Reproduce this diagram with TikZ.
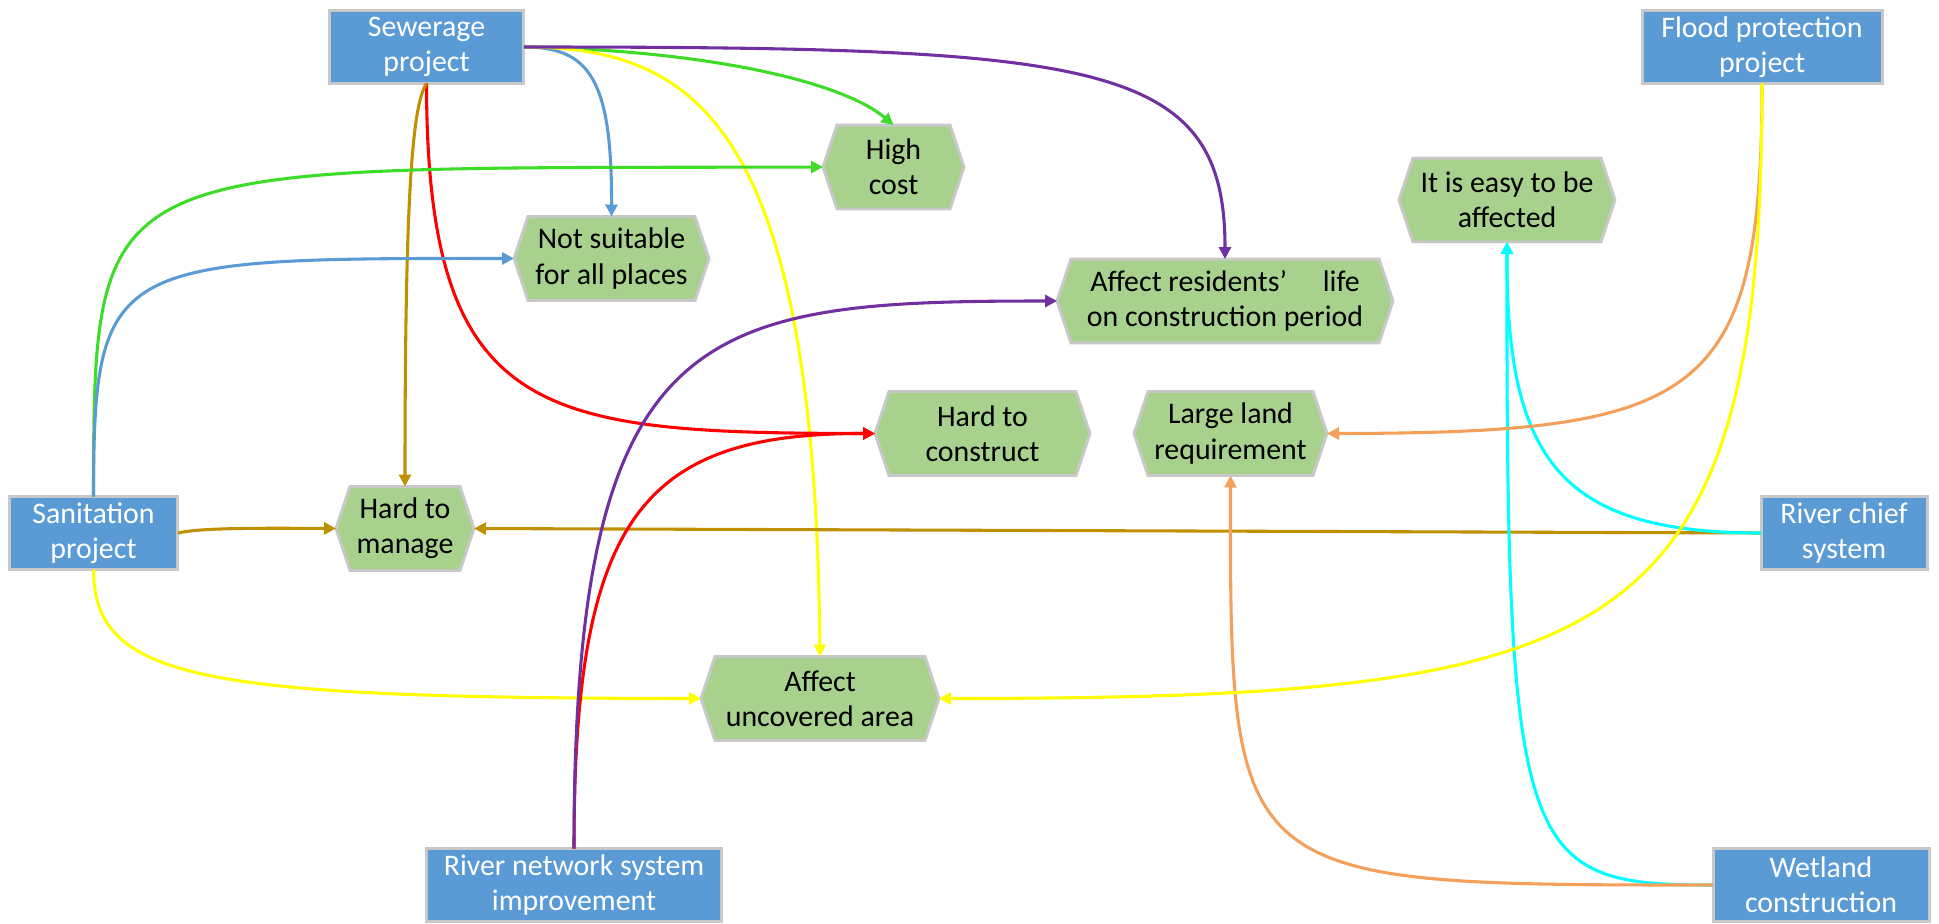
\documentclass[tikz,border=0pt]{standalone}
\usepackage{fontspec}
\setmainfont{Carlito}
\usetikzlibrary{arrows.meta}
\pgfdeclarelayer{background}
\pgfsetlayers{background,main}

\definecolor{boxblue}{HTML}{5B9BD5}
\definecolor{boxline}{HTML}{C8C8C8}
\definecolor{hexgreen}{HTML}{A9D18E}
\definecolor{lgreen}{HTML}{3CDC28}
\definecolor{lblue}{HTML}{5B9BD5}
\definecolor{lyellow}{HTML}{FFFF00}
\definecolor{lpurple}{HTML}{7030A0}
\definecolor{lred}{HTML}{FF0000}
\definecolor{lgold}{HTML}{BF9000}
\definecolor{lorange}{HTML}{F5A05A}
\definecolor{lcyan}{HTML}{00FFFF}

\begin{document}
\begin{tikzpicture}[x=0.02cm,y=-0.02cm,
  txt/.style={font=\fontsize{17}{20}\selectfont, align=center},
  proj/.style={txt, draw=boxline, line width=1.7pt, fill=boxblue, text=white,
    minimum height=1.46cm, inner sep=0pt, outer sep=0pt},
  issue/.style={txt, text=black, minimum height=1.68cm, inner sep=0pt, outer sep=0pt},
  hexline/.style={draw=boxline, line width=1.7pt, fill=hexgreen, line join=miter},
  link/.style={line width=1.75pt, -{Triangle[length=0.24cm,width=0.24cm]}}]

\useasboundingbox (0,0) rectangle (1939,923);

% project boxes
\node[proj, minimum width=3.90cm] (sew)   at (426.5,47)  {Sewerage\\project};
\node[proj, minimum width=4.80cm] (flood) at (1762,47)   {Flood protection\\project};
\node[proj, minimum width=3.38cm] (sani)  at (93.5,533)  {Sanitation\\project};
\node[proj, minimum width=3.32cm] (chief) at (1844,533)  {River chief\\system};
\node[proj, minimum width=5.92cm] (rnet)  at (574,885)   {River network system\\improvement};
\node[proj, minimum width=4.32cm] (wet)   at (1821,885)  {Wetland\\construction};

% consequence nodes (hexagons drawn underneath)
\node[issue, minimum width=2.82cm] (hc)   at (893.5,167) {High\\cost};
\node[issue, minimum width=3.90cm] (ns)   at (611.5,258.5) {Not suitable\\for all places};
\node[issue, minimum width=4.32cm] (ie)   at (1507,200)  {It is easy to be\\affected};
\node[issue, minimum width=6.72cm] (ar)   at (1225,301)  {Affect residents’\hspace{1.2em}life\\on construction period};
\node[issue, minimum width=4.30cm] (hcon) at (982.5,433.5) {Hard to\\construct};
\node[issue, minimum width=3.86cm] (ll)   at (1230.5,433.5) {Large land\\requirement};
\node[issue, minimum width=2.76cm] (hm)   at (405,528.5) {Hard to\\manage};
\node[issue, minimum width=4.76cm] (ua)   at (820,698.5) {Affect\\uncovered area};

\begin{pgfonlayer}{background}
\foreach \n in {hc,ns,ie,ar,hcon,ll,hm,ua}
  \draw[hexline] (\n.west) -- ([xshift=0.28cm]\n.north west) -- ([xshift=-0.28cm]\n.north east)
    -- (\n.east) -- ([xshift=-0.28cm]\n.south east) -- ([xshift=0.28cm]\n.south west) -- cycle;
\end{pgfonlayer}

% Sewerage project
\draw[link, lgreen]  (sew.east) .. controls (700,50) and (840,80) .. (hc.north);
\draw[link, lblue]   (sew.east) .. controls (590,47) and (612,80) .. (ns.north);
\draw[link, lyellow] (sew.east) .. controls (700,47) and (815,130) .. (ua.north);
\draw[link, lpurple] (sew.east) .. controls (1100,47) and (1225,60) .. (ar.north);
\draw[link, lred]    (sew.south) .. controls (427,420) and (540,433) .. (hcon.west);
\draw[link, lgold]   (sew.south) .. controls (412,105) and (405,200) .. (hm.north);

% Sanitation project
\draw[link, lgreen]  (sani.north) .. controls (94,150) and (94,169) .. (hc.west);
\draw[link, lblue]   (sani.north) .. controls (94,260) and (110,258) .. (ns.west);
\draw[link, lgold]   (sani.east) .. controls (200,528) and (250,528) .. (hm.west);
\draw[link, lyellow] (sani.south) .. controls (94,680) and (200,698) .. (ua.west);

% River chief system
\draw[link, lgold]   (chief.west) -- (hm.east);
\draw[link, lcyan]   (chief.west) .. controls (1560,533) and (1506,460) .. (ie.south);

% Wetland construction
\draw[link, lcyan]   (wet.west) .. controls (1520,885) and (1506,860) .. (ie.south);
\draw[link, lorange] (wet.west) .. controls (1230,885) and (1230,885) .. (ll.south);

% Flood protection project
\draw[link, lorange] (flood.south) .. controls (1762,400) and (1700,433) .. (ll.east);
\draw[link, lyellow] (flood.south) .. controls (1762,650) and (1620,698) .. (ua.east);

% River network system improvement
\draw[link, lred]    (rnet.north) .. controls (574,520) and (640,433) .. (hcon.west);
\draw[link, lpurple] (rnet.north) .. controls (574,320) and (700,301) .. (ar.west);

\end{tikzpicture}
\end{document}
